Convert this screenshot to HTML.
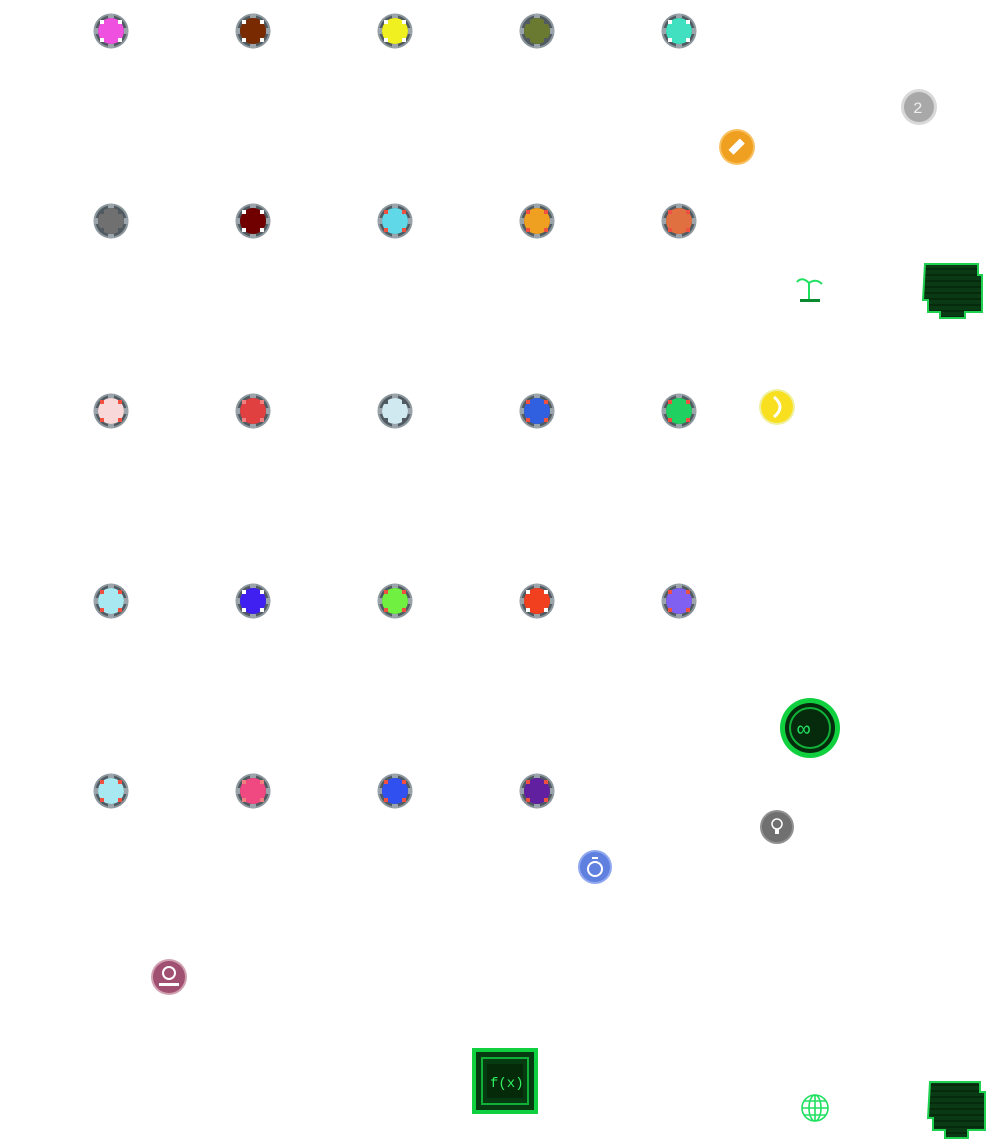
<!DOCTYPE html>
<html><head><meta charset="utf-8"><style>
html,body{margin:0;padding:0;background:#fff;width:994px;height:1140px;overflow:hidden}
svg{display:block}
text{font-family:"Liberation Mono",monospace}
</style></head><body>
<svg width="994" height="1140" viewBox="0 0 994 1140" xmlns="http://www.w3.org/2000/svg">
<defs>
<g id="mk">
<rect x="-3" y="-17" width="6" height="5" fill="#505a60"/>
<rect x="-3" y="12" width="6" height="5" fill="#505a60"/>
<rect x="-17" y="-3" width="5" height="6" fill="#505a60"/>
<rect x="12" y="-3" width="5" height="6" fill="#505a60"/>
</g>
<pattern id="stripe" width="4" height="6" patternUnits="userSpaceOnUse">
<rect width="4" height="6" fill="#0a3a14"/><rect y="4" width="4" height="2" fill="#062a0c"/>
</pattern>
</defs>
<g id="chips"></g>
<script><![CDATA[
var rows=[
[31,[["#f050e0","#fff"],["#7a2a00","#fff"],["#f0f020","#fff"],["#6a7a30","#505a60"],["#40e0c0","#fff"]]],
[221,[["#707070","#505a60"],["#700000","#fff"],["#60d8e8","#f05040"],["#f0a020","#f05040"],["#e07040","#f05040"]]],
[411,[["#f8d8d8","#f05040"],["#e04040","#f08080"],["#d0e8f0","#505a60"],["#3060e0","#f05040"],["#20d060","#f05040"]]],
[601,[["#a8e8f0","#f05040"],["#4020f0","#fff"],["#70f040","#f05040"],["#f04020","#fff"],["#8060f0","#f05040"]]],
[791,[["#a8e8f0","#f05040"],["#f04880","#f08080"],["#3050f0","#f05040"],["#6020a0","#f05040"]]]];
var xs=[111,253,395,537,679],s="",ns="http://www.w3.org/2000/svg";
rows.forEach(function(r){r[1].forEach(function(c,i){var x=xs[i],y=r[0];
s+='<g transform="translate('+x+','+y+')"><circle r="17.5" fill="#8a969c"/><circle r="15.5" fill="#505a60"/><circle r="13" fill="'+c[0]+'"/>'+
'<rect x="-3" y="-17" width="6" height="4" fill="#9aa4aa"/><rect x="-3" y="13" width="6" height="4" fill="#9aa4aa"/><rect x="-17" y="-3" width="4" height="6" fill="#9aa4aa"/><rect x="13" y="-3" width="4" height="6" fill="#9aa4aa"/>'+
'<rect x="-11" y="-11" width="4" height="4" fill="'+c[1]+'"/><rect x="7" y="-11" width="4" height="4" fill="'+c[1]+'"/><rect x="-11" y="7" width="4" height="4" fill="'+c[1]+'"/><rect x="7" y="7" width="4" height="4" fill="'+c[1]+'"/></g>';});});
document.getElementById("chips").innerHTML=s;
]]></script>
<!-- misc icons -->
<circle cx="919" cy="107" r="18" fill="#d8d8d8"/><circle cx="919" cy="107" r="15" fill="#a8a8a8"/><text x="913" y="113" font-size="16" fill="#eee">2</text>
<circle cx="737" cy="147" r="18" fill="#f8c060"/><circle cx="737" cy="147" r="16" fill="#f0a020"/><rect x="729" y="143" width="16" height="7" fill="#fff" transform="rotate(-45 737 147)"/>
<!-- plant -->
<g stroke="#20e060" stroke-width="2" fill="none"><path d="M809 300 V283 M809 283 Q802 276 797 282 M809 283 Q816 278 822 284"/></g>
<rect x="800" y="299" width="20" height="3" fill="#0a8a30"/>
<!-- blobs -->
<path d="M925 264 H978 V275 H982 V312 H965 V318 H940 V312 H928 V300 H923 Z" fill="url(#stripe)" stroke="#20d050" stroke-width="2"/>
<path d="M930 1082 H980 V1092 H985 V1130 H968 V1138 H945 V1130 H933 V1118 H928 Z" fill="url(#stripe)" stroke="#20d050" stroke-width="2"/>
<circle cx="777" cy="407" r="18" fill="#f0f0a0"/><circle cx="777" cy="407" r="16" fill="#f8e020"/><path d="M774 397 Q786 407 774 417" stroke="#fff" stroke-width="3" fill="none"/>
<!-- big green -->
<circle cx="810" cy="728" r="30" fill="#10d040"/><circle cx="810" cy="728" r="25" fill="#062a0c"/><circle cx="810" cy="728" r="20" fill="none" stroke="#10b038" stroke-width="2"/>
<text x="797" y="736" font-size="22" fill="#20e060">∞</text>
<circle cx="777" cy="827" r="17" fill="#909090"/><circle cx="777" cy="827" r="15" fill="#707070"/><circle cx="777" cy="824" r="5" fill="none" stroke="#fff" stroke-width="1.5"/><rect x="775" y="829" width="4" height="5" fill="#fff"/>
<circle cx="595" cy="867" r="17" fill="#90a8f0"/><circle cx="595" cy="867" r="15" fill="#6080e0"/><circle cx="595" cy="869" r="7" fill="none" stroke="#fff" stroke-width="2"/><rect x="592" y="857" width="6" height="2" fill="#fff"/>
<circle cx="169" cy="977" r="18" fill="#d0a0b0"/><circle cx="169" cy="977" r="16" fill="#a05070"/><circle cx="169" cy="973" r="6" fill="none" stroke="#fff" stroke-width="2"/><rect x="159" y="983" width="20" height="3" fill="#fff"/>
<!-- fx square -->
<rect x="472" y="1048" width="66" height="66" fill="#10d040"/>
<rect x="476" y="1052" width="58" height="58" fill="#063a10"/>
<rect x="482" y="1058" width="46" height="46" fill="none" stroke="#10b038" stroke-width="2"/>
<rect x="487" y="1064" width="36" height="34" fill="#052a0a"/>
<text x="490" y="1087" font-size="14" fill="#30f060">f(x)</text>
<!-- globe -->
<g stroke="#20e060" stroke-width="1.6" fill="none"><circle cx="815" cy="1108" r="13"/><ellipse cx="815" cy="1108" rx="6" ry="13"/><path d="M802 1108 H828 M804 1101 H826 M804 1115 H826 M815 1095 V1121"/></g>
</svg>
</body></html>
